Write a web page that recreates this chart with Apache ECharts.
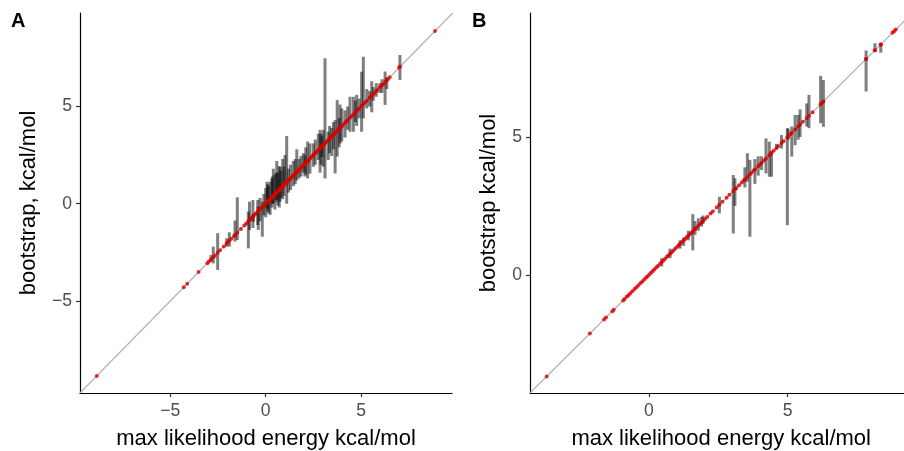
<!DOCTYPE html>
<html>
<head>
<meta charset="utf-8">
<script src="https://cdn.jsdelivr.net/npm/echarts@6/dist/echarts.min.js"></script>
<style>
html,body{margin:0;padding:0;background:#fff;}
#chart{width:904px;height:451px;}
</style>
</head>
<body>
<div id="chart"></div>
<script>
// ---------- Panel A data ----------
// error bars: max-likelihood energy (x), bootstrap interval low / high (y)
const A_x  = [-2.87,-2.75,-2.52,-2.05,-1.91,-1.61,-1.49,-0.91,-0.85,-0.67,-0.65,-0.42,-0.39,-0.30,-0.18,-0.10,0.00,0.07,0.10,0.15,0.23,0.32,0.35,0.40,0.48,0.55,0.58,0.64,0.71,0.75,0.80,0.89,0.95,1.01,1.10,1.19,1.30,1.45,1.55,1.63,1.75,1.85,1.97,2.05,2.10,2.20,2.32,2.50,2.60,2.76,2.85,2.90,2.95,3.02,3.11,3.28,3.35,3.46,3.55,3.64,3.75,3.85,3.90,3.99,4.16,4.30,4.42,4.60,4.70,4.77,4.90,5.03,5.12,5.30,5.45,5.56,5.64,5.80,5.99,6.10,6.26,6.35,7.04];
const A_lo = [-2.98,-3.07,-3.41,-2.21,-2.21,-1.95,-1.87,-2.30,-1.35,-1.25,-0.93,-1.10,-1.35,-0.90,-1.70,-0.60,-0.70,-0.24,-0.40,-0.50,-0.58,-0.20,0.00,0.00,-0.30,0.20,0.10,-0.10,-0.20,0.10,0.30,0.23,0.40,1.00,0.00,0.57,0.70,0.90,1.00,1.20,1.30,1.40,1.60,1.40,1.50,1.30,1.55,1.90,2.00,2.25,1.60,2.00,2.40,1.90,1.30,2.25,2.60,2.45,2.80,1.56,2.42,2.90,3.10,3.20,3.40,3.80,3.70,3.70,4.20,4.00,4.40,3.70,4.39,4.90,5.00,4.70,5.30,5.50,5.70,5.70,5.08,5.90,6.36];
const A_hi = [-2.64,-2.21,-1.52,-1.78,-1.47,-0.87,0.33,-0.40,0.10,0.19,-0.50,0.19,-0.15,0.30,0.10,0.50,0.80,1.13,1.00,0.90,1.13,1.30,1.40,1.80,1.50,1.60,2.20,1.60,1.93,1.90,1.70,2.30,1.90,2.50,3.48,1.80,2.00,2.20,2.30,2.80,2.30,2.45,2.60,2.50,2.90,3.20,3.10,3.10,3.30,3.60,3.80,3.60,3.50,3.80,7.48,3.70,4.00,3.90,4.20,4.30,5.33,4.40,5.10,4.90,4.80,5.00,5.50,5.50,5.30,5.60,5.40,6.79,7.56,5.90,5.80,6.30,6.00,6.20,6.20,6.40,6.80,6.50,7.65];
// estimates without a visible interval (red points only)
const A_extra = [-8.86,-4.30,-4.12,-3.52,-3.06,-2.98,-2.66,-2.40,-2.20,-2.00,-1.80,-1.66,-1.30,-1.12,-1.02,-0.80,-0.72,-0.55,-0.48,-0.24,-0.05,0.05,0.12,0.20,0.27,0.36,0.44,0.52,0.60,0.68,0.76,0.84,0.94,1.05,1.15,1.24,1.35,1.40,1.50,1.58,1.70,1.80,1.90,2.02,2.15,2.25,2.38,2.45,2.55,2.68,2.80,2.90,3.08,3.18,3.35,3.40,3.50,3.60,3.68,3.80,3.95,4.05,4.22,4.50,4.85,5.20,5.50,5.70,5.85,6.05,6.15,6.40,6.50,7.00,8.88];
const A_range = [-9.74, 9.81];
const A_xrange = [-9.74, 9.77];
const A_ticks = [-5, 0, 5];

// ---------- Panel B data ----------
const B_x  = [0.46,0.76,1.12,1.25,1.42,1.58,1.66,1.78,1.90,1.95,2.54,3.04,3.10,3.46,3.55,3.64,3.82,3.94,4.06,4.22,4.34,4.42,4.60,4.78,4.99,5.02,5.15,5.27,5.38,5.45,5.69,5.77,6.19,6.29,7.83,8.15,8.36];
const B_lo = [0.30,0.60,0.95,1.05,1.25,0.89,1.45,1.60,1.75,1.85,2.23,1.50,2.50,3.17,3.38,1.38,3.30,3.60,3.80,3.68,3.56,3.56,4.55,4.58,1.80,4.90,4.29,4.70,4.90,5.00,5.38,5.32,5.50,5.37,6.65,8.20,8.06];
const B_hi = [0.60,0.95,1.25,1.35,1.60,2.20,1.95,2.05,2.10,2.15,2.83,3.62,3.50,3.90,4.41,4.17,4.20,4.30,4.30,4.95,4.83,4.50,4.75,5.07,5.32,5.30,5.38,5.80,5.80,6.00,6.22,6.53,7.22,7.07,8.14,8.40,8.40];
const B_extra = [-3.69,-2.13,-1.62,-1.55,-1.32,-1.27,-0.93,-0.88,-0.80,-0.74,-0.68,-0.60,-0.52,-0.45,-0.38,-0.30,-0.24,-0.17,-0.10,-0.05,0.02,0.08,0.14,0.20,0.27,0.33,0.40,0.52,0.58,0.65,0.70,0.82,0.88,0.95,1.02,1.08,1.18,1.30,1.36,1.48,1.52,1.70,1.84,2.02,2.10,2.22,2.30,2.45,2.65,2.80,2.90,3.15,3.25,3.35,3.42,3.70,3.78,4.00,4.15,4.38,4.50,4.66,4.85,5.10,5.55,5.90,6.25,7.83,8.15,8.36,8.78,8.84,8.90];
const B_range = [-4.29, 9.50];
const B_ticks = [0, 5];

// ---------- styling ----------
const FONT = 'Liberation Sans, Arial, Helvetica, sans-serif';
const BAR_COLOR = 'rgba(0,0,0,0.5)';
const RED = 'rgb(218,0,0)';

function bars(xs, lo, hi){ return xs.map((v,i)=>[v, lo[i], hi[i]]); }
function pts(xs){ return xs.map(v=>[v, v]); }

function renderBar(params, api){
  const x = api.value(0), lo = api.value(1), hi = api.value(2);
  const top = api.coord([x, hi]);
  const bot = api.coord([x, lo]);
  return {
    type: 'rect',
    shape: {x: top[0]-1.5, y: top[1], width: 3, height: Math.max(1, bot[1]-top[1])},
    style: {fill: BAR_COLOR}
  };
}

function makeAxis(gridIndex, range, ticks, name, nameGap, isX){
  return {
    gridIndex: gridIndex,
    type: 'value',
    min: range[0], max: range[1],
    name: name,
    nameLocation: 'middle',
    nameGap: nameGap,
    nameTextStyle: {fontFamily: FONT, fontSize: 22, color: '#000'},
    axisLine: {show: true, onZero: false, lineStyle: {color: '#000', width: 1.2}},
    axisTick: {show: true, customValues: ticks, length: 4, lineStyle: {color: '#333', width: 1.2}},
    axisLabel: {show: true, customValues: ticks, margin: isX ? 9 : 8, fontFamily: FONT, fontSize: 17.6, color: '#4d4d4d',
      formatter: v => (v < 0 ? '\u2212' + Math.abs(v) : String(v))},
    splitLine: {show: false}
  };
}

const chart = echarts.init(document.getElementById('chart'), null, {renderer: 'canvas'});
chart.setOption({
  animation: false,
  backgroundColor: '#fff',
  grid: [
    {left: 80, top: 13, width: 372, height: 380, outerBoundsMode: 'none', containLabel: false},
    {left: 530, top: 13, width: 382.4, height: 380, outerBoundsMode: 'none', containLabel: false}
  ],
  xAxis: [
    makeAxis(0, A_xrange, A_ticks, 'max likelihood energy kcal/mol', 35, true),
    makeAxis(1, B_range, B_ticks, 'max likelihood energy kcal/mol', 35, true)
  ],
  yAxis: [
    makeAxis(0, A_range, A_ticks, 'bootstrap, kcal/mol', 40, false),
    makeAxis(1, B_range, B_ticks, 'bootstrap kcal/mol', 30, false)
  ],
  graphic: [
    {type: 'text', left: 11, top: 11, style: {text: 'A', fontFamily: FONT, fontWeight: 'bold', fontSize: 20, fill: '#000'}},
    {type: 'text', left: 472, top: 11, style: {text: 'B', fontFamily: FONT, fontWeight: 'bold', fontSize: 20, fill: '#000'}}
  ],
  series: [
    {type: 'line', xAxisIndex: 0, yAxisIndex: 0, data: pts(A_range), symbol: 'none', silent: true, z: 1,
      lineStyle: {color: '#b3b3b3', width: 1.2}},
    {type: 'line', xAxisIndex: 1, yAxisIndex: 1, data: pts(B_range), symbol: 'none', silent: true, z: 1,
      lineStyle: {color: '#b3b3b3', width: 1.2}},
    {type: 'custom', xAxisIndex: 0, yAxisIndex: 0, renderItem: renderBar, data: bars(A_x, A_lo, A_hi), z: 2, silent: true},
    {type: 'custom', xAxisIndex: 1, yAxisIndex: 1, renderItem: renderBar, data: bars(B_x, B_lo, B_hi), z: 2, silent: true},
    {type: 'scatter', xAxisIndex: 0, yAxisIndex: 0, data: pts(A_x.concat(A_extra)), symbolSize: 4, z: 3, silent: true,
      itemStyle: {color: RED}},
    {type: 'scatter', xAxisIndex: 1, yAxisIndex: 1, data: pts(B_x.concat(B_extra)), symbolSize: 4, z: 3, silent: true,
      itemStyle: {color: RED}}
  ]
});
</script>
</body>
</html>
